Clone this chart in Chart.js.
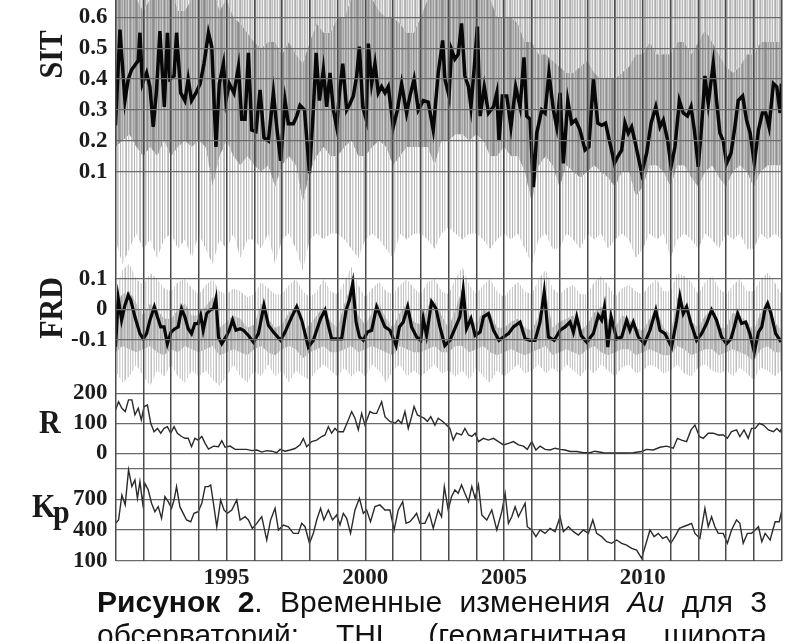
<!DOCTYPE html>
<html lang="ru">
<head>
<meta charset="utf-8">
<script src="https://cdn.jsdelivr.net/npm/chart.js@4.4.1/dist/chart.umd.min.js"></script>
<style>
  html, body { margin: 0; padding: 0; background: #fff; overflow: hidden; }
  body { width: 790px; height: 641px; position: relative; }
  #chart { position: absolute; left: 0; top: 0; }
  .cap { position: absolute; left: 97px; width: 670px; font-family: "Liberation Sans", Arial, sans-serif;
         font-size: 30px; line-height: 30px; color: #111; text-align: justify; text-align-last: justify; }
  .cap b { font-weight: bold; }
</style>
</head>
<body>
<canvas id="chart" width="790" height="590"></canvas>
<div class="cap" style="top:587px"><b>Рисунок 2</b>. Временные изменения <i>Au</i> для 3</div>
<div class="cap" style="top:620px">обсерваторий: THL (геомагнитная широта</div>
<script>
// SIT, black curve
const sitYears = [1991.00,1991.16,1991.34,1991.46,1991.58,1991.70,1991.82,1991.88,1991.97,1992.12,1992.24,1992.36,1992.48,1992.60,1992.76,1992.87,1992.96,
  1993.11,1993.20,1993.35,1993.50,1993.62,1993.74,1993.90,1994.05,1994.19,1994.35,1994.47,1994.62,1994.74,1994.89,1994.98,
  1995.10,1995.27,1995.43,1995.55,1995.67,1995.79,1995.91,1996.06,1996.21,1996.35,1996.51,1996.69,1996.81,1996.95,
  1997.11,1997.23,1997.41,1997.53,1997.65,1997.81,1997.99,1998.13,1998.23,1998.35,1998.49,1998.61,1998.73,1998.85,1998.97,
  1999.07,1999.19,1999.33,1999.45,1999.57,1999.69,1999.79,1999.91,2000.03,2000.11,2000.23,2000.35,2000.47,2000.59,2000.71,2000.83,
  2001.01,2001.16,2001.31,2001.49,2001.61,2001.76,2001.91,2002.09,2002.27,2002.45,2002.63,2002.79,2002.87,
  2003.02,2003.11,2003.23,2003.35,2003.47,2003.59,2003.72,2003.81,2003.93,2004.04,2004.14,2004.29,2004.44,2004.62,2004.74,2004.82,2004.94,
  2005.10,2005.25,2005.42,2005.58,2005.72,2005.82,2005.94,2006.06,2006.18,2006.36,2006.48,2006.62,2006.78,2006.90,
  2007.02,2007.14,2007.30,2007.44,2007.58,2007.74,2007.92,2008.06,2008.22,2008.38,2008.52,2008.66,2008.80,2008.98,
  2009.10,2009.24,2009.36,2009.48,2009.60,2009.74,2009.96,2010.14,2010.30,2010.47,2010.62,2010.74,2010.90,
  2011.02,2011.16,2011.32,2011.46,2011.61,2011.74,2011.86,2012.00,2012.12,2012.24,2012.36,2012.54,2012.66,2012.78,2012.90,
  2013.02,2013.18,2013.32,2013.44,2013.60,2013.74,2013.87,2014.02,2014.17,2014.31,2014.43,2014.55,2014.71,2014.83,2014.95,2015.00];
const sitValues = [0.25,0.56,0.33,0.40,0.43,0.445,0.46,0.55,0.385,0.42,0.375,0.245,0.365,0.555,0.31,0.55,0.40,
  0.41,0.55,0.355,0.33,0.40,0.33,0.355,0.385,0.45,0.55,0.505,0.18,0.385,0.45,0.33,
  0.385,0.355,0.44,0.27,0.27,0.485,0.235,0.23,0.365,0.21,0.20,0.355,0.245,0.135,
  0.33,0.255,0.255,0.28,0.315,0.30,0.095,0.30,0.485,0.33,0.43,0.31,0.42,0.30,0.245,
  0.355,0.45,0.30,0.32,0.345,0.41,0.505,0.31,0.27,0.515,0.385,0.45,0.355,0.375,0.355,0.375,
  0.245,0.30,0.385,0.29,0.345,0.40,0.30,0.33,0.325,0.235,0.42,0.525,0.40,
  0.345,0.495,0.465,0.48,0.58,0.41,0.375,0.31,0.44,0.57,0.28,0.375,0.29,0.31,0.355,0.20,0.345,
  0.345,0.245,0.375,0.31,0.47,0.28,0.27,0.05,0.225,0.30,0.29,0.42,0.30,0.245,
  0.355,0.127,0.33,0.257,0.267,0.235,0.17,0.18,0.40,0.257,0.25,0.257,0.20,0.127,
  0.149,0.17,0.257,0.225,0.245,0.19,0.095,0.16,0.257,0.31,0.245,0.267,0.20,
  0.116,0.18,0.33,0.29,0.28,0.31,0.235,0.116,0.245,0.41,0.32,0.45,0.33,0.225,0.20,
  0.127,0.16,0.245,0.33,0.345,0.267,0.225,0.127,0.235,0.29,0.29,0.245,0.385,0.375,0.29,0.385];

// FRD, black curve
const frdYears = [1991.00,1991.10,1991.22,1991.34,1991.46,1991.55,1991.70,1991.88,1992.00,1992.12,1992.24,1992.40,1992.51,1992.63,1992.75,1992.87,
  1993.00,1993.14,1993.26,1993.38,1993.50,1993.62,1993.74,1993.86,1993.98,1994.07,1994.16,1994.29,1994.41,1994.53,1994.62,1994.71,1994.83,1994.98,
  1995.10,1995.22,1995.34,1995.49,1995.61,1995.79,1995.97,1996.15,1996.35,1996.51,1996.69,1996.95,1997.11,1997.35,1997.53,1997.71,1997.95,
  1998.13,1998.25,1998.39,1998.55,1998.67,1998.79,1998.97,1999.15,1999.31,1999.43,1999.55,1999.67,1999.79,1999.93,
  2000.08,2000.23,2000.41,2000.56,2000.71,2000.89,2001.11,2001.23,2001.37,2001.53,2001.67,2001.85,2002.00,2002.09,2002.21,2002.39,2002.55,2002.69,2002.87,
  2003.05,2003.23,2003.41,2003.53,2003.65,2003.81,2003.96,2004.14,2004.26,2004.44,2004.62,2004.82,2004.98,2005.16,2005.34,2005.58,2005.76,2005.94,
  2006.12,2006.30,2006.45,2006.60,2006.81,2007.02,2007.20,2007.38,2007.50,2007.62,2007.78,2007.98,2008.22,2008.40,2008.52,2008.62,2008.74,2008.86,
  2009.06,2009.24,2009.42,2009.54,2009.66,2009.84,2010.06,2010.26,2010.47,2010.62,2010.80,2011.04,2011.22,2011.34,2011.46,2011.58,2011.74,2011.94,
  2012.12,2012.30,2012.48,2012.66,2012.84,2013.02,2013.18,2013.30,2013.42,2013.56,2013.71,2013.86,2014.02,2014.17,2014.29,2014.41,2014.50,2014.62,2014.79,2014.95,2015.00];
const frdValues = [-0.123,0.036,-0.035,0.014,0.047,0.031,-0.024,-0.079,-0.096,-0.079,-0.035,0.009,-0.024,-0.057,-0.057,-0.112,
  -0.074,-0.063,-0.057,0.003,-0.024,-0.063,-0.079,-0.046,-0.046,-0.019,-0.068,-0.013,-0.002,0.003,0.036,-0.090,-0.112,-0.090,
  -0.068,-0.035,-0.068,-0.063,-0.068,-0.085,-0.107,-0.079,0.014,-0.052,-0.074,-0.101,-0.074,-0.024,0.009,-0.035,-0.123,
  -0.101,-0.068,-0.030,-0.002,-0.052,-0.096,-0.096,-0.096,-0.002,0.031,0.086,-0.041,-0.090,-0.101,
  -0.074,-0.068,0.009,-0.024,-0.057,-0.068,-0.118,-0.057,-0.041,0.009,-0.057,-0.090,-0.101,-0.030,-0.085,0.025,0.003,-0.057,-0.118,
  -0.101,-0.063,-0.024,0.064,-0.063,-0.030,-0.085,-0.074,-0.024,-0.013,-0.068,-0.101,-0.090,-0.079,-0.057,-0.041,-0.096,-0.101,
  -0.101,-0.041,0.058,-0.090,-0.101,-0.068,-0.057,-0.041,-0.074,-0.024,-0.085,-0.107,-0.079,-0.019,-0.035,0.009,-0.123,-0.024,
  -0.096,-0.090,-0.035,-0.068,-0.041,-0.090,-0.112,-0.068,-0.002,-0.068,-0.079,-0.123,-0.035,0.042,-0.013,0.009,-0.046,-0.101,
  -0.079,-0.046,-0.002,-0.035,-0.090,-0.112,-0.096,-0.057,-0.013,-0.046,-0.041,-0.079,-0.140,-0.074,-0.057,0.003,0.020,-0.013,-0.079,-0.101,-0.096];

// R
const rYears = [1991.00,1991.11,1991.23,1991.35,1991.47,1991.59,1991.70,1991.82,1991.93,1992.03,1992.15,1992.27,1992.39,1992.51,1992.63,1992.75,1992.87,1992.99,
  1993.11,1993.23,1993.38,1993.50,1993.62,1993.74,1993.86,1993.98,1994.11,1994.23,1994.35,1994.53,1994.71,1994.83,1994.95,
  1995.13,1995.31,1995.49,1995.73,1995.91,1996.09,1996.27,1996.45,1996.63,1996.81,1996.93,1997.11,1997.29,1997.47,1997.65,1997.77,1997.89,
  1998.07,1998.25,1998.43,1998.55,1998.67,1998.79,1998.91,1999.03,1999.21,1999.39,1999.51,1999.63,1999.75,1999.87,1999.99,
  2000.17,2000.29,2000.41,2000.59,2000.71,2000.83,2000.89,2001.07,2001.19,2001.31,2001.43,2001.55,2001.67,2001.76,2001.88,
  2002.00,2002.12,2002.24,2002.36,2002.51,2002.63,2002.79,2002.93,2003.05,2003.17,2003.29,2003.47,2003.59,2003.72,2003.84,2003.96,
  2004.08,2004.26,2004.44,2004.62,2004.80,2004.98,2005.16,2005.34,2005.52,2005.70,2005.84,2006.00,2006.15,2006.30,2006.48,2006.66,2006.84,
  2007.02,2007.20,2007.38,2007.62,2007.86,2008.10,2008.28,2008.58,2008.94,2009.30,2009.66,2009.96,2010.14,2010.38,2010.62,2010.86,
  2011.10,2011.25,2011.40,2011.58,2011.74,2011.88,2012.04,2012.18,2012.36,2012.54,2012.72,2012.90,2013.05,2013.20,2013.38,2013.50,2013.65,2013.80,2013.92,
  2014.05,2014.20,2014.35,2014.53,2014.71,2014.83,2014.95,2015.00];
const rValues = [144,172,150,139,178,178,128,150,111,156,161,100,72,83,67,83,89,67,
  89,67,56,50,50,22,50,44,56,33,14,24,22,42,20,
  24,13,13,13,9,11,4,9,7,2,13,7,11,16,28,49,22,
  39,44,56,61,89,67,83,72,72,111,139,117,78,133,94,
  139,133,133,172,122,111,106,100,111,100,139,83,122,156,128,
  122,117,106,122,94,117,106,94,83,44,67,61,83,61,56,67,
  39,50,44,50,39,28,33,39,28,24,13,39,11,24,13,11,17,
  13,11,6,6,2,2,7,2,1,1,2,6,13,11,20,24,
  17,50,44,39,78,94,56,50,67,67,61,61,50,72,78,56,78,50,83,
  83,100,94,78,72,83,72,83];

// Kp
const kpYears = [1991.00,1991.11,1991.23,1991.35,1991.47,1991.59,1991.70,1991.79,1991.88,1991.98,1992.06,1992.18,1992.30,1992.42,1992.54,1992.66,1992.78,1992.90,
  1993.02,1993.11,1993.20,1993.32,1993.44,1993.56,1993.71,1993.83,1993.98,1994.11,1994.23,1994.35,1994.43,1994.53,1994.65,1994.79,1994.91,
  1995.03,1995.19,1995.37,1995.49,1995.67,1995.79,1995.93,1996.09,1996.27,1996.45,1996.59,1996.75,1996.87,1997.05,1997.23,1997.41,1997.59,1997.71,1997.83,1997.99,
  1998.13,1998.25,1998.39,1998.51,1998.67,1998.82,1998.97,1999.09,1999.21,1999.33,1999.47,1999.63,1999.79,1999.93,2000.05,2000.19,2000.35,2000.53,2000.71,
  2000.89,2001.04,2001.19,2001.35,2001.47,2001.61,2001.76,2001.85,2001.97,2002.15,2002.31,2002.45,2002.63,2002.75,2002.85,2002.99,
  2003.11,2003.23,2003.35,2003.47,2003.59,2003.72,2003.84,2003.96,2004.08,2004.20,2004.38,2004.56,2004.74,2004.92,
  2005.04,2005.16,2005.28,2005.40,2005.52,2005.64,2005.76,2005.84,2006.00,2006.15,2006.30,2006.48,2006.66,2006.84,
  2007.02,2007.14,2007.32,2007.50,2007.68,2007.86,2008.04,2008.20,2008.34,2008.52,2008.70,2008.88,2009.06,2009.24,2009.42,2009.60,2009.78,2009.96,
  2010.12,2010.26,2010.41,2010.56,2010.72,2010.86,2011.01,2011.16,2011.32,2011.46,2011.62,2011.76,2011.88,2012.06,2012.24,2012.36,2012.48,2012.60,2012.72,2012.90,
  2013.05,2013.20,2013.38,2013.50,2013.62,2013.77,2013.92,2014.05,2014.17,2014.29,2014.41,2014.59,2014.77,2014.92,2015.00];
const kpValues = [465,498,742,645,987,824,889,710,873,661,856,791,661,579,628,514,726,677,
  612,693,824,628,563,498,481,563,579,661,824,824,840,661,432,693,596,
  563,596,693,498,530,498,416,465,530,302,498,612,400,449,432,367,367,465,432,270,
  367,498,612,498,596,498,547,449,563,514,367,596,710,563,596,481,628,645,596,
  596,400,596,677,465,481,530,563,465,465,563,416,596,530,824,596,
  726,791,759,840,759,677,824,710,840,547,498,596,400,579,
  759,465,530,628,530,596,661,432,400,335,400,367,416,384,
  530,384,432,384,351,400,367,498,367,335,286,270,302,270,253,221,204,123,
  270,400,335,367,318,335,270,335,416,432,449,465,367,318,612,432,530,432,367,367,
  270,400,498,465,270,367,367,400,432,286,367,302,481,481,579];

// grey scatter envelopes, quarterly
const greyYears = [1991,1991.25,1991.5,1991.75,1992,1992.25,1992.5,1992.75,1993,1993.25,1993.5,1993.75,1994,1994.25,1994.5,1994.75,
  1995,1995.25,1995.5,1995.75,1996,1996.25,1996.5,1996.75,1997,1997.25,1997.5,1997.75,1998,1998.25,1998.5,1998.75,
  1999,1999.25,1999.5,1999.75,2000,2000.25,2000.5,2000.75,2001,2001.25,2001.5,2001.75,2002,2002.25,2002.5,2002.75,
  2003,2003.25,2003.5,2003.75,2004,2004.25,2004.5,2004.75,2005,2005.25,2005.5,2005.75,2006,2006.25,2006.5,2006.75,
  2007,2007.25,2007.5,2007.75,2008,2008.25,2008.5,2008.75,2009,2009.25,2009.5,2009.75,2010,2010.25,2010.5,2010.75,
  2011,2011.25,2011.5,2011.75,2012,2012.25,2012.5,2012.75,2013,2013.25,2013.5,2013.75,2014,2014.25,2014.5,2014.75,2015];
const sitGreyTop = [0.70,0.70,0.66,0.66, 0.62,0.66,0.70,0.70, 0.70,0.62,0.62,0.66, 0.70,0.70,0.70,0.62,
  0.66,0.60,0.58,0.55, 0.52,0.50,0.52,0.52, 0.48,0.52,0.48,0.45, 0.52,0.58,0.55,0.55,
  0.60,0.60,0.66,0.70, 0.70,0.66,0.62,0.60, 0.60,0.58,0.55,0.55, 0.60,0.66,0.70,0.70,
  0.70,0.70,0.70,0.70, 0.70,0.70,0.66,0.60, 0.60,0.60,0.58,0.52, 0.52,0.48,0.48,0.46,
  0.44,0.42,0.42,0.44, 0.46,0.42,0.40,0.40, 0.40,0.42,0.44,0.48, 0.48,0.52,0.48,0.48,
  0.48,0.52,0.52,0.48, 0.52,0.56,0.52,0.48, 0.44,0.42,0.44,0.48, 0.48,0.52,0.52,0.52, 0.52];
const sitGreyLow = [0.18,0.20,0.22,0.18, 0.15,0.18,0.15,0.20, 0.15,0.18,0.20,0.18, 0.20,0.18,0.05,0.15,
  0.20,0.15,0.12,0.15, 0.12,0.10,0.12,0.05, 0.12,0.15,0.12,0.00, 0.10,0.15,0.18,0.15,
  0.15,0.18,0.20,0.15, 0.15,0.18,0.20,0.18, 0.12,0.15,0.18,0.18, 0.18,0.18,0.12,0.20,
  0.20,0.22,0.22,0.20, 0.22,0.20,0.15,0.15, 0.18,0.15,0.15,0.10, 0.00,0.12,0.15,0.12,
  0.05,0.12,0.10,0.08, 0.10,0.12,0.10,0.08, 0.05,0.10,0.10,0.02, 0.05,0.12,0.12,0.10,
  0.05,0.12,0.12,0.08, 0.05,0.10,0.12,0.08, 0.05,0.10,0.12,0.10, 0.05,0.10,0.12,0.12, 0.12];
const sitGreyTail = [-0.12,-0.20,-0.15,-0.10, -0.15,-0.12,-0.18,-0.12, -0.10,-0.15,-0.12,-0.18, -0.10,-0.15,-0.20,-0.12,
  -0.15,-0.10,-0.18,-0.12, -0.12,-0.15,-0.10,-0.20, -0.12,-0.10,-0.15,-0.22, -0.12,-0.10,-0.12,-0.10,
  -0.10,-0.12,-0.15,-0.18, -0.12,-0.10,-0.12,-0.15, -0.18,-0.10,-0.12,-0.10, -0.10,-0.12,-0.15,-0.10,
  -0.08,-0.10,-0.12,-0.10, -0.10,-0.12,-0.15,-0.12, -0.10,-0.12,-0.10,-0.15, -0.20,-0.12,-0.10,-0.15,
  -0.15,-0.10,-0.12,-0.15, -0.10,-0.12,-0.10,-0.15, -0.12,-0.10,-0.12,-0.18, -0.15,-0.10,-0.12,-0.10,
  -0.18,-0.12,-0.10,-0.12, -0.15,-0.10,-0.12,-0.15, -0.10,-0.12,-0.10,-0.15, -0.15,-0.10,-0.12,-0.10, -0.12];
const frdGreyHigh = [0.06,0.13,0.15,0.10, 0.08,0.12,0.10,0.07, 0.06,0.09,0.10,0.07, 0.05,0.08,0.10,0.06,
  0.05,0.07,0.06,0.04, 0.05,0.09,0.07,0.05, 0.05,0.08,0.10,0.06, 0.04,0.06,0.10,0.06,
  0.05,0.09,0.14,0.08, 0.04,0.07,0.09,0.06, 0.05,0.08,0.10,0.07, 0.05,0.09,0.10,0.06,
  0.05,0.10,0.14,0.08, 0.05,0.08,0.10,0.06, 0.04,0.07,0.09,0.06, 0.05,0.10,0.13,0.07,
  0.05,0.07,0.08,0.05, 0.05,0.09,0.11,0.08, 0.04,0.07,0.08,0.06, 0.05,0.08,0.10,0.06,
  0.06,0.12,0.11,0.09, 0.05,0.09,0.11,0.07, 0.05,0.08,0.10,0.06, 0.06,0.10,0.12,0.09, 0.05];
const frdGreyLow = [-0.20,-0.24,-0.22,-0.18, -0.22,-0.25,-0.20,-0.22, -0.18,-0.22,-0.24,-0.20, -0.22,-0.20,-0.23,-0.25,
  -0.22,-0.18,-0.22,-0.24, -0.20,-0.22,-0.18,-0.22, -0.20,-0.24,-0.20,-0.22, -0.23,-0.20,-0.18,-0.20,
  -0.22,-0.19,-0.22,-0.20, -0.22,-0.18,-0.20,-0.24, -0.20,-0.18,-0.22,-0.20, -0.22,-0.20,-0.18,-0.21,
  -0.20,-0.22,-0.20,-0.23, -0.19,-0.22,-0.24,-0.20, -0.22,-0.20,-0.18,-0.21, -0.20,-0.18,-0.21,-0.19,
  -0.21,-0.18,-0.20,-0.22, -0.19,-0.21,-0.18,-0.20, -0.22,-0.19,-0.18,-0.21, -0.20,-0.18,-0.19,-0.21,
  -0.20,-0.18,-0.21,-0.22, -0.19,-0.18,-0.20,-0.21, -0.20,-0.22,-0.19,-0.21, -0.23,-0.19,-0.20,-0.22, -0.20];
const frdCoreHigh = [0.02,0.05,0.06,0.02, -0.02,0.02,0.00,-0.03, -0.03,0.00,0.02,-0.02, -0.02,0.01,0.04,-0.06,
  -0.04,-0.02,-0.03,-0.06, -0.05,0.02,-0.03,-0.06, -0.05,-0.01,0.01,-0.07, -0.05,-0.02,0.01,-0.04,
  -0.06,0.02,0.08,-0.02, -0.05,-0.01,0.02,-0.03, -0.06,-0.01,0.02,-0.04, -0.05,0.01,0.03,-0.02,
  -0.06,0.00,0.07,-0.02, -0.05,0.00,-0.01,-0.06, -0.06,-0.04,-0.03,-0.06, -0.07,-0.02,0.06,-0.06,
  -0.04,-0.03,-0.02,-0.07, -0.05,-0.01,0.01,-0.03, -0.06,-0.02,-0.03,-0.06, -0.07,-0.03,0.00,-0.06,
  -0.08,0.04,0.01,-0.04, -0.06,-0.02,0.00,-0.06, -0.06,-0.01,-0.02,-0.04, -0.07,-0.01,0.02,-0.04, -0.07];
const frdCoreLow = [-0.14,-0.12,-0.13,-0.14, -0.13,-0.12,-0.14,-0.15, -0.13,-0.14,-0.12,-0.13, -0.14,-0.13,-0.12,-0.15,
  -0.14,-0.13,-0.14,-0.15, -0.13,-0.12,-0.14,-0.15, -0.13,-0.12,-0.13,-0.16, -0.14,-0.13,-0.12,-0.14,
  -0.14,-0.13,-0.12,-0.14, -0.13,-0.12,-0.13,-0.14, -0.15,-0.12,-0.13,-0.14, -0.14,-0.13,-0.12,-0.14,
  -0.14,-0.12,-0.12,-0.14, -0.13,-0.12,-0.14,-0.15, -0.14,-0.13,-0.14,-0.15, -0.14,-0.13,-0.12,-0.15,
  -0.14,-0.13,-0.14,-0.15, -0.13,-0.12,-0.14,-0.15, -0.14,-0.13,-0.13,-0.15, -0.14,-0.13,-0.14,-0.15,
  -0.15,-0.12,-0.13,-0.15, -0.14,-0.13,-0.13,-0.15, -0.14,-0.13,-0.14,-0.15, -0.17,-0.13,-0.12,-0.14, -0.14];

const yearLabels = [1995, 2000, 2005, 2010];
const sitTicks = [0.1, 0.2, 0.3, 0.4, 0.5, 0.6];
const frdTicks = [-0.1, 0, 0.1];
const rTicks = [0, 100, 200];
const kpTicks = [100, 400, 700, 1000];
const kpShown = [100, 400, 700];

const canvas = document.getElementById("chart");
const ctx = canvas.getContext("2d");
const serif = "'Liberation Serif', 'Times New Roman', serif";

const toPoints = (xs, ys) => xs.map((x, i) => ({ x, y: ys[i] }));

// vertical streak texture for the grey scatter
const stripes = (cols) => {
  const c = document.createElement("canvas");
  c.width = cols.length;
  c.height = 1;
  const g = c.getContext("2d");
  cols.forEach((col, i) => {
    g.fillStyle = col;
    g.fillRect(i, 0, 1, 1);
  });
  return ctx.createPattern(c, "repeat");
};
const clear = "rgba(0,0,0,0)";
const sitTopFill = stripes(["#adadad", "#d8d8d8", "#c0c0c0", "#e8e8e8", "#b6b6b6", "#cdcdcd", "#e2e2e2", "#bababa",
  "#f0f0f0", "#c6c6c6", "#b0b0b0", "#dcdcdc", "#c9c9c9", "#ececec", "#bcbcbc"]);
const sitCoreFill = stripes(["#8a8a8a", "#9e9e9e", "#b8b8b8", "#a4a4a4", "#c6c6c6", "#929292", "#aeaeae", "#bcbcbc", "#9a9a9a",
  "#cfcfcf", "#a8a8a8", "#8f8f8f", "#b2b2b2", "#c2c2c2", "#a0a0a0", "#b6b6b6", "#989898"]);
const sitTailFill = stripes(["#b9b9b9", clear, "#cdcdcd", "#e6e6e6", clear, "#c2c2c2", "#dadada", clear, "#b4b4b4",
  clear, "#d2d2d2", "#e8e8e8", clear, "#c6c6c6"]);
const frdOuterFill = stripes(["#c4c4c4", clear, "#d4d4d4", "#e8e8e8", clear, "#cacaca", clear, "#dcdcdc", "#c0c0c0",
  clear, "#e4e4e4", "#d0d0d0", clear]);
const frdCoreFill = stripes(["#a6a6a6", "#bcbcbc", "#cccccc", "#b0b0b0", "#c4c4c4", "#d4d4d4", "#aaaaaa", "#c0c0c0",
  "#b6b6b6", "#d0d0d0", "#b2b2b2"]);

const greyBand = (ys, axis, fill, bg, order) => ({
  data: toPoints(greyYears, ys),
  yAxisID: axis,
  fill,
  backgroundColor: bg,
  borderColor: clear,
  borderWidth: 1,
  pointRadius: 0,
  tension: 0,
  order,
});

const curve = (xs, ys, axis, width, color) => ({
  data: toPoints(xs, ys),
  yAxisID: axis,
  fill: false,
  borderColor: color,
  borderWidth: width,
  pointRadius: 0,
  tension: 0,
  order: 0,
});

const tickFont = { family: serif, weight: "bold", size: 23 };
const plotLeft = 115.5;

// every panel axis spans the whole plot height; its range puts its ticks in its own band
const panelAxis = (min, max, ticks, label, gridZ) => ({
  type: "linear",
  position: "left",
  min,
  max,
  afterBuildTicks: (s) => {
    s.ticks = ticks.map((v) => ({ value: v }));
  },
  afterFit: (s) => {
    s.width = 0;
    s.paddingTop = 0;
    s.paddingBottom = 0;
  },
  ticks: { font: tickFont, color: "#1c1c1c", padding: 8, autoSkip: false, callback: label },
  grid: { color: "#6a6a6a", lineWidth: 1.3, drawTicks: false, z: gridZ },
  border: { display: false },
});

// the panel axes share one label column left of the plot
const labelColumn = {
  id: "labelColumn",
  afterLayout(chart) {
    ["ySit", "yFrd", "yR", "yKp"].forEach((id) => {
      const s = chart.scales[id];
      s.left = 0;
      s.right = chart.chartArea.left;
      s.width = s.right;
    });
  },
};

// axis names drawn beside each panel
const axisNames = {
  id: "axisNames",
  afterDraw(chart) {
    const { ctx, scales } = chart;
    ctx.save();
    ctx.fillStyle = "#1a1a1a";
    ctx.font = "bold 30px " + serif;
    ctx.textBaseline = "alphabetic";

    const rotated = (text, x, y) => {
      ctx.save();
      ctx.translate(x, y);
      ctx.rotate(-Math.PI / 2);
      ctx.scale(1, 1.15);
      ctx.textAlign = "center";
      ctx.fillText(text, 0, 0);
      ctx.restore();
    };
    const upright = (text, x, y) => {
      ctx.save();
      ctx.translate(x, y);
      ctx.scale(1, 1.15);
      ctx.textAlign = "left";
      ctx.fillText(text, 0, 0);
      ctx.restore();
    };
    rotated("SIT", 62, scales.ySit.getPixelForValue(0.48));
    rotated("FRD", 62, scales.yFrd.getPixelForValue(0.005));
    upright("R", 39, scales.yR.getPixelForValue(68));
    upright("K", 32, scales.yKp.getPixelForValue(527));
    upright("p", 53, scales.yKp.getPixelForValue(468));
    ctx.restore();
  },
};

new Chart(canvas, {
  type: "line",
  data: {
    datasets: [
      greyBand(sitGreyTop, "ySit", "end", sitTopFill, 6),
      greyBand(sitGreyLow, "ySit", 0, sitCoreFill, 5),
      greyBand(sitGreyTail, "ySit", 1, sitTailFill, 4),
      greyBand(frdGreyHigh, "yFrd", false, clear, 3),
      greyBand(frdGreyLow, "yFrd", 3, frdOuterFill, 3),
      greyBand(frdCoreHigh, "yFrd", false, clear, 2),
      greyBand(frdCoreLow, "yFrd", 5, frdCoreFill, 2),
      curve(sitYears, sitValues, "ySit", 3.5, "#080808"),
      curve(frdYears, frdValues, "yFrd", 3.2, "#080808"),
      curve(rYears, rValues, "yR", 1.4, "#2a2a2a"),
      curve(kpYears, kpValues, "yKp", 1.4, "#2a2a2a"),
    ],
  },
  options: {
    responsive: false,
    animation: false,
    events: [],
    layout: { padding: { left: plotLeft, right: 8.5, top: 0, bottom: 0 } },
    plugins: { legend: { display: false }, tooltip: { enabled: false } },
    scales: {
      x: {
        type: "linear",
        min: 1991,
        max: 2015,
        afterFit: (s) => {
          s.height = 29.3;
          s.paddingLeft = 0;
          s.paddingRight = 0;
        },
        ticks: {
          stepSize: 1,
          autoSkip: false,
          maxRotation: 0,
          padding: 4,
          font: tickFont,
          color: "#1c1c1c",
          callback: (v) => (yearLabels.includes(v) ? String(v) : ""),
        },
        grid: { color: "#4a4a4a", lineWidth: 1.5, drawTicks: false, z: 1 },
        border: { display: false },
      },
      ySit: panelAxis(-1.16, 0.656, sitTicks, (v) => v.toFixed(1), 1),
      yFrd: panelAxis(-0.8236, 1.0148, frdTicks, (v) => String(v), 1),
      yR: panelAxis(-358, 1511, rTicks, (v) => String(v), 0),
      yKp: panelAxis(100, 5579, kpTicks, (v) => (kpShown.includes(v) ? String(v) : ""), 0),
    },
  },
  plugins: [labelColumn, axisNames],
});
</script>
</body>
</html>
